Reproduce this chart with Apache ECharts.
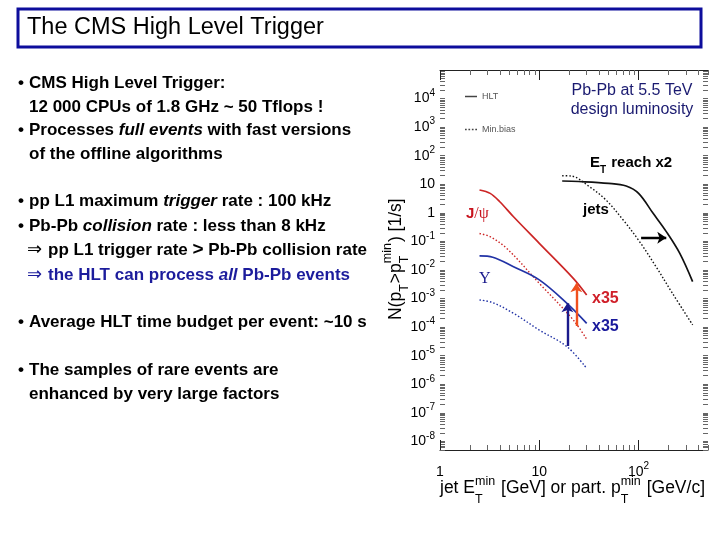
<!DOCTYPE html>
<html><head><meta charset="utf-8">
<script src="https://cdn.jsdelivr.net/npm/echarts@6/dist/echarts.min.js"></script>
<style>html,body{margin:0;padding:0;background:#fff}#c{width:720px;height:540px}</style>
</head><body><div id="c"></div>
<script>
// ---------------- data ----------------
const xTickValues = [1, 10, 100];
const yTickValues = [1e-8, 1e-7, 1e-6, 1e-5, 1e-4, 1e-3, 1e-2, 1e-1, 1, 10, 1e2, 1e3, 1e4];
const xRange = [1, 500];
const yRange = [5e-9, 1e5];

const jetsHltX = [17, 25, 50, 75, 100, 140, 190, 260, 350];
const jetsHltY = [13, 12.5, 10.8, 8.7, 4.8, 0.96, 0.22, 0.038, 0.0039];
const jetsMbX  = [17, 21, 32, 47, 70, 100, 150, 220, 350];
const jetsMbY  = [20, 19.5, 8.2, 2.8, 0.56, 0.11, 0.013, 0.0015, 0.00012];

const jpsiHltX = [2.5, 3.2, 4, 5.5, 10, 22, 30];
const jpsiHltY = [6.3, 4.8, 2.45, 0.73, 0.086, 0.0051, 0.00133];
const jpsiMbX  = [2.5, 3.2, 4.7, 10, 22, 30];
const jpsiMbY  = [0.19, 0.146, 0.057, 0.0034, 0.000178, 0.0000375];

const upsHltX = [2.5, 3.4, 5.5, 10, 19, 30];
const upsHltY = [0.031, 0.028, 0.013, 0.0045, 0.00068, 0.000136];
const upsMbX  = [2.5, 3.4, 5.5, 10, 19, 30];
const upsMbY  = [0.00089, 0.00072, 0.000305, 0.000079, 0.0000207, 0.0000036];

const jetsShiftArrow = [[106, 0.135], [190, 0.135]];
const jpsiGainArrow  = [[23.6, 1.1e-4], [23.6, 3.4e-3]];
const upsGainArrow   = [[19.2, 2.2e-5], [19.2, 6.8e-4]];

// ---------------- helpers ----------------
const L = Math.log10;
const F = '"Liberation Sans", Arial, Helvetica, sans-serif';
const FS = '"Liberation Serif", "DejaVu Serif", serif';
const FD = '"DejaVu Sans", sans-serif';
const toPts = (xs, ys) => xs.map((x, i) => [L(x), L(ys[i])]);
const arrowPts = (a) => a.map(p => [L(p[0]), L(p[1])]);

const xMinL = L(xRange[0]), xMaxL = L(xRange[1]);
const yMinL = L(yRange[0]), yMaxL = L(yRange[1]);

const xMinor = [], xMajor = [], yAll = [];
for (let n = 0; n <= 2; n++) for (let k = 1; k <= 9; k++) {
  const v = n + L(k);
  if (v <= xMaxL + 1e-9) (k === 1 ? xMajor : xMinor).push(v);
}
for (let n = -9; n <= 4; n++) for (let k = 1; k <= 9; k++) {
  const v = n + L(k);
  if (v >= yMinL - 1e-9 && v <= yMaxL + 1e-9) yAll.push(v);
}
const xLabelVals = xTickValues.map(L);
const yLabelVals = yTickValues.map(L);

function powLabel(v) {
  const e = Math.round(v);
  if (e === 0) return '1';
  if (e === 1) return '10';
  return '10{s|' + e + '}';
}
const supRich = { s: { fontSize: 10, fontFamily: F, color: '#000', padding: [0, 0, 11, 0], lineHeight: 12 } };

const cv = document.createElement('canvas').getContext('2d');
function tw(t, size, weight) { cv.font = (weight || 'normal') + ' ' + size + 'px ' + F; return cv.measureText(t).width; }
function mk(x, y, text, size, o) {
  return Object.assign({ type: 'text', x: x, y: y, z: 10, style: Object.assign({
    text: text, fontFamily: F, fontSize: size, fill: '#000',
    align: 'left', verticalAlign: 'middle', textAlign: 'left', textVerticalAlign: 'middle'
  }, o || {}) });
}
function scripted(segs, base, o, subSize, weight, supDy, subDy) {
  const kids = []; let x = 0; subSize = subSize || 12;
  const oo = Object.assign({ fontWeight: weight || 'normal' }, o || {});
  segs.forEach(s => {
    if (typeof s === 'string') { kids.push(mk(x, 0, s, base, oo)); x += tw(s, base, weight); }
    else {
      let w = 0;
      if (s.sup) { kids.push(mk(x, supDy, s.sup, subSize, oo)); w = Math.max(w, tw(s.sup, subSize, weight)); }
      if (s.sub) { kids.push(mk(x, subDy, s.sub, subSize, oo)); w = Math.max(w, tw(s.sub, subSize, weight)); }
      x += w + 1;
    }
  });
  return kids;
}

// ---------------- slide text ----------------
const g = [];
g.push({ type: 'rect', z: 0, shape: { x: 18, y: 9, width: 683, height: 38 }, style: { fill: 'none', stroke: '#0d0d9c', lineWidth: 3 } });
g.push(mk(27, 28, 'The CMS High Level Trigger', 23.5));

const TS = 17, TW = 'bold';
const ital = (col) => ({ i: { fontStyle: 'italic', fontWeight: TW, fontSize: TS, fontFamily: F, fill: col || '#000' } });
function bullet(y) { g.push(mk(18, y, '•', TS, { fontWeight: TW })); }
function line(x, y, text, opts) { g.push(mk(x, y, text, TS, Object.assign({ fontWeight: TW, rich: ital() }, opts || {}))); }

bullet(83); line(29, 83, 'CMS High Level Trigger:');
line(29, 107, '12 000 CPUs of 1.8 GHz ~ 50 Tflops !');
bullet(130); line(29, 130, 'Processes {i|full events} with fast versions');
line(29, 154, 'of the offline algorithms');
bullet(201); line(29, 201, 'pp L1 maximum {i|trigger} rate : 100 kHz');
bullet(226); line(29, 226, 'Pb-Pb {i|collision} rate : less than 8 kHz');
g.push(mk(27, 250, '⇒', 18, { fontFamily: FD }));
line(48, 250, 'pp L1 trigger rate {b|>} Pb-Pb collision rate', { rich: { b: { fontSize: 19, fontWeight: 'bold', fontFamily: F, fill: '#000' } } });
g.push(mk(27, 275, '⇒', 18, { fontFamily: FD, fill: '#1c1c9c' }));
line(48, 275, 'the HLT can process {i|all} Pb-Pb events', { fill: '#1c1c9c', rich: ital('#1c1c9c') });
bullet(322); line(29, 322, 'Average HLT time budget per event: ~10 s');
bullet(370); line(29, 370, 'The samples of rare events are');
line(29, 394, 'enhanced by very large factors');

// ---------------- chart annotations ----------------
g.push(mk(632, 91, 'Pb-Pb at 5.5 TeV', 16, { fill: '#1a1a70', align: 'center', textAlign: 'center' }));
g.push(mk(632, 110, 'design luminosity', 16, { fill: '#1a1a70', align: 'center', textAlign: 'center' }));
g.push({ type: 'group', x: 590, y: 163, children: scripted(['E', { sub: 'T' }, ' reach x2'], 15, {}, 10, 'bold', -6, 7) });
g.push(mk(596, 210, 'jets', 15, { fontWeight: 'bold', align: 'center', textAlign: 'center' }));
g.push(mk(466, 214, 'J{s|/ψ}', 15, { fontWeight: 'bold', fill: '#c8141e', rich: { s: { fontFamily: FS, fontSize: 16, fill: '#c8141e' } } }));
g.push(mk(479, 279, 'Υ', 16, { fontFamily: FS, fill: '#1a1a8c' }));
g.push(mk(592, 299, 'x35', 16, { fontWeight: 'bold', fill: '#d0202a' }));
g.push(mk(592, 327, 'x35', 16, { fontWeight: 'bold', fill: '#1a1a9c' }));

// axis names
g.push({ type: 'group', x: 440, y: 488, children: scripted(['jet E', { sup: 'min', sub: 'T' }, ' [GeV] or part. p', { sup: 'min', sub: 'T' }, ' [GeV/c]'], 17.5, {}, 12.5, 'normal', -6, 12) });
g.push({ type: 'group', x: 396, y: 320, rotation: Math.PI / 2, children: scripted(['N(p', { sub: 'T' }, '>p', { sup: 'min', sub: 'T' }, ') [1/s]'], 17.5, {}, 12.5, 'normal', -8, 9) });

// ---------------- chart ----------------
const axisCol = '#222', tickCol = '#666';
const xBase = { type: 'value', min: xMinL, max: xMaxL, gridIndex: 0, splitLine: { show: false } };
const yBase = { type: 'value', min: yMinL, max: yMaxL, gridIndex: 0, splitLine: { show: false } };

const lineSeries = (name, xs, ys, color, dotted) => ({
  type: 'line', name: name, data: toPts(xs, ys), showSymbol: false, symbol: 'none', smooth: 0.35,
  lineStyle: { color: color, width: dotted ? 1.4 : 1.7, type: dotted ? [1.5, 2] : 'solid' },
  itemStyle: { color: color }, z: 3, silent: true
});
const arrowSeries = (pts, color) => ({
  type: 'lines', coordinateSystem: 'cartesian2d', xAxisIndex: 0, yAxisIndex: 0, z: 5,
  symbol: ['none', 'arrow'], symbolSize: 9, silent: true,
  lineStyle: { color: color, width: 2.4, opacity: 1 },
  data: [{ coords: arrowPts(pts) }]
});

const chart = echarts.init(document.getElementById('c'), null, { renderer: 'canvas' });
chart.setOption({
  animation: false,
  backgroundColor: '#fff',
  textStyle: { fontFamily: F },
  grid: { left: 440, right: 12, top: 70, bottom: 90, containLabel: false },
  legend: {
    data: [
      { name: 'HLT', icon: 'path://M0,0H16V2H0Z' },
      { name: 'Min.bias', icon: 'path://M0,0H2V2H0Z M4,0H6V2H4Z M8,0H10V2H8Z M12,0H14V2H12Z' }
    ],
    orient: 'vertical', left: 460, top: 87, itemWidth: 12, itemHeight: 8, itemGap: 24,
    selectedMode: false, textStyle: { fontSize: 9, color: '#555', fontFamily: F },
    itemStyle: { color: '#444', borderWidth: 0 }
  },
  xAxis: [
    Object.assign({}, xBase, {
      position: 'bottom',
      axisLine: { show: true, onZero: false, lineStyle: { color: axisCol, width: 1 } },
      axisTick: { show: true, inside: true, length: 5, customValues: xMinor, lineStyle: { color: tickCol } },
      axisLabel: { customValues: xLabelVals, formatter: powLabel, margin: 11, fontSize: 14, color: '#000', fontFamily: F, lineHeight: 22, rich: supRich }
    }),
    Object.assign({}, xBase, {
      position: 'top',
      axisLine: { show: true, onZero: false, lineStyle: { color: axisCol, width: 1 } },
      axisTick: { show: true, inside: true, length: 5, customValues: xMinor, lineStyle: { color: tickCol } },
      axisLabel: { show: false }
    }),
    Object.assign({}, xBase, {
      position: 'bottom',
      axisLine: { show: false, onZero: false },
      axisTick: { show: true, inside: true, length: 10, customValues: xMajor, lineStyle: { color: axisCol } },
      axisLabel: { show: false }
    }),
    Object.assign({}, xBase, {
      position: 'top',
      axisLine: { show: false, onZero: false },
      axisTick: { show: true, inside: true, length: 10, customValues: xMajor, lineStyle: { color: axisCol } },
      axisLabel: { show: false }
    })
  ],
  yAxis: [
    Object.assign({}, yBase, {
      position: 'left',
      axisLine: { show: false, onZero: false },
      axisTick: { show: true, inside: true, length: 5, customValues: yAll, lineStyle: { color: tickCol } },
      axisLabel: { customValues: yLabelVals, formatter: powLabel, margin: 5, fontSize: 14, color: '#000', fontFamily: F, lineHeight: 22, rich: supRich }
    }),
    Object.assign({}, yBase, {
      position: 'right',
      axisLine: { show: false, onZero: false },
      axisTick: { show: true, inside: true, length: 5, customValues: yAll, lineStyle: { color: tickCol } },
      axisLabel: { show: false }
    })
  ],
  series: [
    lineSeries('HLT', jetsHltX, jetsHltY, '#111', false),
    lineSeries('Min.bias', jetsMbX, jetsMbY, '#111', true),
    lineSeries('HLT', jpsiHltX, jpsiHltY, '#cc2626', false),
    lineSeries('Min.bias', jpsiMbX, jpsiMbY, '#cc2626', true),
    lineSeries('HLT', upsHltX, upsHltY, '#2233a6', false),
    lineSeries('Min.bias', upsMbX, upsMbY, '#2233a6', true),
    arrowSeries(jetsShiftArrow, '#000'),
    arrowSeries(jpsiGainArrow, '#f0501e'),
    arrowSeries(upsGainArrow, '#1a1a8c')
  ],
  graphic: { elements: g }
});
</script>
</body></html>
